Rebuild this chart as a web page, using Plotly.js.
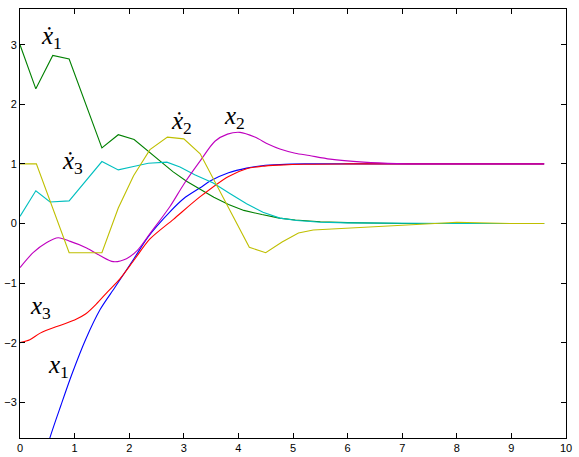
<!DOCTYPE html>
<html>
<head>
<meta charset="utf-8">
<script src="https://cdn.plot.ly/plotly-3.0.1.min.js"></script>
<style>html,body{margin:0;padding:0;background:#fff}#chart{width:579px;height:457px}</style>
</head>
<body>
<div id="chart"></div>
<script>
// x1 (blue)
var tX1 = [0, 0.3, 0.55, 0.75, 0.95, 1.2, 1.47, 1.74, 2.08, 2.35, 2.75, 3.0, 3.3, 3.5, 3.82, 4.15, 4.43, 4.76, 5.22, 6.0, 7.0, 8.0, 9.6];
var yX1 = [-5.4, -4.4, -3.59, -3.05, -2.53, -1.95, -1.44, -1.07, -0.6, -0.22, 0.2, 0.42, 0.6, 0.72, 0.85, 0.93, 0.97, 0.99, 1.0, 1.0, 1.0, 1.0, 1.0];
// xdot1 (green)
var tXd1 = [0, 0.29, 0.6, 0.9, 1.5, 1.8, 2.09, 2.35, 2.56, 2.8, 3.05, 3.3, 3.55, 3.82, 4.1, 4.43, 4.75, 5.04, 5.5, 6.0, 7.0, 8.0, 9.6];
var yXd1 = [3.0, 2.26, 2.82, 2.76, 1.27, 1.49, 1.41, 1.21, 1.04, 0.87, 0.71, 0.57, 0.44, 0.32, 0.22, 0.15, 0.09, 0.06, 0.03, 0.015, 0.0, 0.0, 0.0];
// x3 (red)
var tX3 = [0, 0.18, 0.37, 0.73, 1.0, 1.2, 1.4, 1.6, 1.83, 2.1, 2.38, 2.81, 3.3, 3.82, 4.15, 4.43, 4.76, 5.2, 6.0, 7.0, 8.0, 9.6];
var yX3 = [-2.0, -1.95, -1.84, -1.71, -1.62, -1.52, -1.35, -1.15, -0.93, -0.6, -0.26, 0.07, 0.45, 0.79, 0.92, 0.96, 0.98, 0.995, 1.0, 1.0, 1.0, 1.0];
// xdot3 (cyan)
var tXd3 = [0, 0.29, 0.55, 0.9, 1.5, 1.8, 2.1, 2.35, 2.69, 2.93, 3.2, 3.54, 3.85, 4.15, 4.45, 4.76, 5.07, 5.5, 6.0, 7.0, 8.0, 9.6];
var yXd3 = [0.12, 0.55, 0.36, 0.38, 1.04, 0.9, 0.96, 1.01, 1.03, 0.95, 0.82, 0.68, 0.5, 0.33, 0.19, 0.09, 0.05, 0.02, 0.01, 0.0, 0.0, 0.0];
// x2 (magenta)
var tX2 = [0, 0.24, 0.49, 0.7, 0.92, 1.22, 1.47, 1.71, 1.95, 2.15, 2.38, 2.75, 3.0, 3.3, 3.57, 3.8, 4.03, 4.3, 4.55, 4.76, 5.04, 5.3, 5.68, 6.29, 6.9, 7.5, 8.0, 9.6];
var yX2 = [-0.74, -0.49, -0.32, -0.24, -0.3, -0.41, -0.54, -0.64, -0.59, -0.45, -0.17, 0.29, 0.66, 1.05, 1.38, 1.5, 1.53, 1.45, 1.33, 1.25, 1.18, 1.14, 1.08, 1.03, 1.005, 1.0, 1.0, 1.0];
// xdot2 (yellow)
var tXd2 = [0, 0.3, 0.9, 1.5, 1.8, 2.08, 2.38, 2.7, 3.0, 3.3, 4.2, 4.5, 4.8, 5.1, 5.37, 6.28, 7.14, 7.6, 8.0, 8.5, 9.0, 9.6];
var yXd2 = [1.0, 1.0, -0.49, -0.49, 0.26, 0.8, 1.24, 1.45, 1.42, 1.17, -0.4, -0.49, -0.31, -0.16, -0.11, -0.07, -0.02, 0.0, 0.02, 0.005, 0.0, 0.0];

var xTicks = [0,1,2,3,4,5,6,7,8,9,10];
var yTicks = [-3,-2,-1,0,1,2,3];

var labelText = ['<i>x\u0307</i><sub>1</sub>', '<i>x\u0307</i><sub>3</sub>', '<i>x\u0307</i><sub>2</sub>', '<i>x</i><sub>2</sub>', '<i>x</i><sub>3</sub>', '<i>x</i><sub>1</sub>'];
var labelX = [0.57, 0.97, 2.95, 3.92, 0.37, 0.71];
var labelY = [3.12, 1.02, 1.69, 1.78, -1.41, -2.4];

function tr(t, y, c, smooth) {
  var ln = {color: c, width: 1.1};
  if (smooth) { ln.shape = 'spline'; ln.smoothing = 0.8; }
  return {x: t, y: y, type: 'scatter', mode: 'lines', line: ln, hoverinfo: 'skip'};
}
var data = [
  tr(tX1, yX1, '#0000ff', true),
  tr(tXd1, yXd1, '#008000', false),
  tr(tX3, yX3, '#ff0000', true),
  tr(tXd3, yXd3, '#00bfbf', false),
  tr(tX2, yX2, '#bf00bf', true),
  tr(tXd2, yXd2, '#bfbf00', false)
];
var anns = labelText.map(function(t, i) {
  return {x: labelX[i], y: labelY[i], xref: 'x', yref: 'y', text: t, showarrow: false,
    font: {family: 'Liberation Serif', size: 25, color: '#000'}};
});
var axisCommon = {ticks: 'inside', ticklen: 5, tickwidth: 1, tickcolor: '#000', showline: true, linecolor: '#000', linewidth: 1,
  mirror: 'ticks', showgrid: false, zeroline: false, tickfont: {family: 'Liberation Sans, Arial, sans-serif', size: 11, color: '#000'}};
var layout = {
  width: 579, height: 457, showlegend: false,
  paper_bgcolor: '#fff', plot_bgcolor: '#fff',
  margin: {l: 20, r: 13, t: 9, b: 19},
  xaxis: Object.assign({}, axisCommon, {range: [0, 10], tickvals: xTicks, ticktext: xTicks.map(String)}),
  yaxis: Object.assign({}, axisCommon, {range: [-3.6, 3.6], tickvals: yTicks, ticktext: yTicks.map(function(v){return v < 0 ? '\u2212' + Math.abs(v) : String(v);})}),
  annotations: anns
};
Plotly.newPlot('chart', data, layout, {displayModeBar: false, staticPlot: true});
</script>
</body>
</html>
